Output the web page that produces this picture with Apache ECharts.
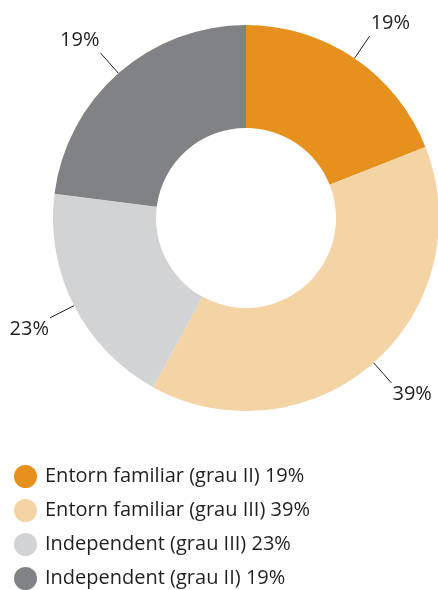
<!DOCTYPE html>
<html lang="ca">
<head>
    <meta charset="UTF-8">
    <title>echarts</title>
    <script src="https://cdn.jsdelivr.net/npm/echarts@6/dist/echarts.min.js"></script>
    <style>
        html, body { margin: 0; padding: 0; background: #fff; }
        #main { width: 438px; height: 590px; }
    </style>
</head>
<body>
<div id="main"></div>
<script type="text/javascript">
    // dades
    var categories = ['Entorn familiar (grau II)', 'Entorn familiar (grau III)', 'Independent (grau III)', 'Independent (grau II)'];
    // percentatges impresos (etiquetes i llegenda)
    var values = [19, 39, 23, 19];
    // mida de cada sector tal com està dibuixat a l'original (no coincideix amb les etiquetes)
    var sliceShares = [19, 39, 19, 23];
    var colors = ['#E6901E', '#F4D3A4', '#D1D3D4', '#808285'];

    var myChart = echarts.init(document.getElementById('main'));

    var pieData = [];
    for (var i = 0; i < categories.length; i++) {
        pieData.push({
            name: categories[i],
            value: sliceShares[i],
            printed: values[i],
            itemStyle: { color: colors[i] }
        });
    }

    var option = {
        animation: false,
        legend: {
            orient: 'vertical',
            left: 14,
            top: 465,
            padding: 0,
            icon: 'circle',
            itemWidth: 23,
            itemHeight: 23,
            itemGap: 11,
            textStyle: {
                fontFamily: 'Open Sans',
                fontSize: 20,
                color: '#231f20',
                padding: [0, 0, 0, 3]
            },
            formatter: function (name) {
                return name + ' ' + values[categories.indexOf(name)] + '%';
            },
            data: categories
        },
        series: [{
            type: 'pie',
            center: [246, 218],
            radius: [90, 193],
            startAngle: 90,
            clockwise: true,
            silent: true,
            label: {
                show: true,
                position: 'outside',
                formatter: function (p) { return p.data.printed + '%'; },
                fontFamily: 'Open Sans',
                fontSize: 20,
                color: '#231f20',
                width: 60,
                overflow: 'none',
                distanceToLabelLine: 1
            },
            labelLine: {
                show: true,
                length: 27,
                length2: 0,
                lineStyle: { color: '#231f20', width: 1 }
            },
            // el text queda a sobre o a sota del final de la línia, com a l'original
            labelLayout: function (params) {
                var pts = params.labelLinePoints;
                if (!pts) return {};
                var up = pts[pts.length - 1][1] < pts[0][1];
                return { dy: up ? -13 : 11 };
            },
            data: pieData
        }]
    };

    myChart.setOption(option);
</script>
</body>
</html>
